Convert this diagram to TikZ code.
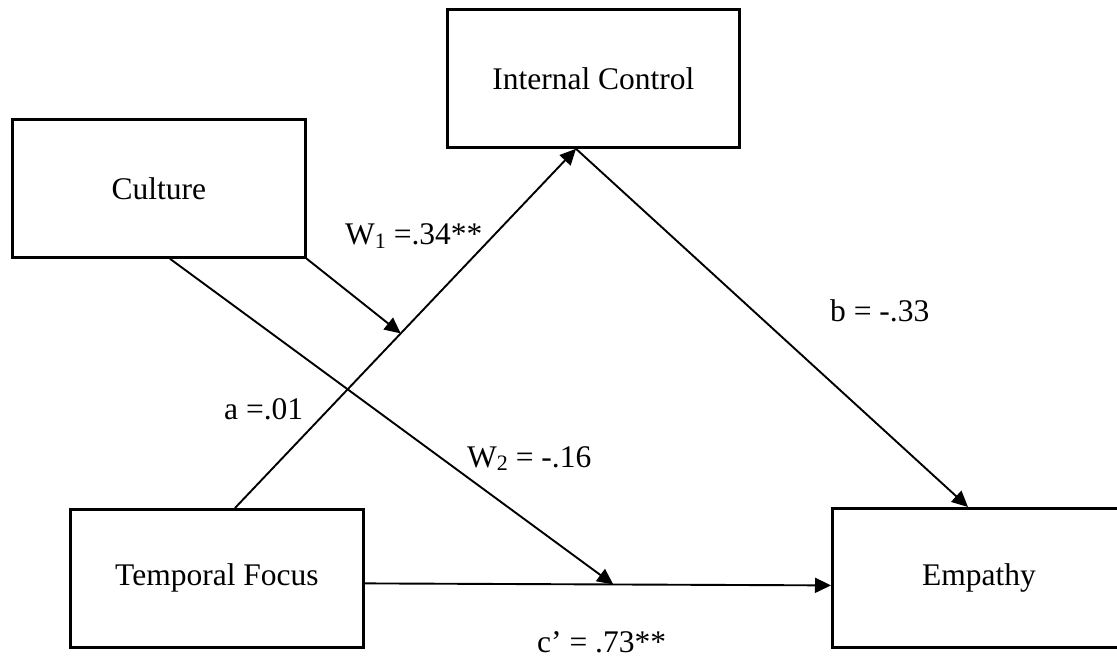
\documentclass[tikz,border=0pt]{standalone}
\usepackage{fontspec}
\setmainfont{Liberation Serif}
\usetikzlibrary{arrows.meta,calc}
\tikzset{
  varbox/.style={draw, line width=2.8pt, rectangle, inner sep=0pt, anchor=north west,
    font=\fontsize{31.5}{36}\selectfont},
  path/.style={line width=1.9pt, -{Triangle[length=16pt,width=15pt]}},
  lbl/.style={inner sep=0pt, anchor=base west, font=\fontsize{31.5}{36}\selectfont}
}
\begin{document}
\begin{tikzpicture}[x=1pt,y=-1pt]
\useasboundingbox (0,0) rectangle (1117,660);
\clip (0,0) rectangle (1117,660);
\node[varbox, minimum width=292pt, minimum height=138pt] (ic) at (446,8) {Internal Control};
\node[varbox, minimum width=293pt, minimum height=138pt] (cu) at (11,118) {Culture};
\node[varbox, minimum width=293pt, minimum height=138pt] (tf) at (69,508) {\raisebox{-4pt}{Temporal Focus}};
\node[varbox, minimum width=293pt, minimum height=139pt, text width=293pt, align=center] (em) at (831,507) {\raisebox{-4pt}{Empathy}};
% a path
\coordinate (a1) at ([xshift=166pt]tf.north west);
\coordinate (a2) at ([xshift=130pt]ic.south west);
\draw[path] (a1) -- (a2);
% b path
\draw[path] (a2) -- ([xshift=137pt]em.north west);
% c' path
\coordinate (c1) at ([yshift=-5pt]tf.east);
\coordinate (c2) at ([yshift=-7.5pt]em.west);
\draw[path] (c1) -- (c2);
% moderation arrows
\coordinate (m1) at ($(a1)!0.486!(a2)$);
\coordinate (m2) at ($(c1)!0.533!(c2)$);
\draw[path] (cu.south east) -- (m1);
\draw[path] ([xshift=159pt]cu.south west) -- (m2);
% labels
\node[lbl] (lw1) at (345,245) {W\raisebox{-0.12em}{\fontsize{22}{26}\selectfont 1} =.34**};
\node[lbl] (la) at (224,419) {a =.01};
\node[lbl] (lw2) at (467,467) {W\raisebox{-0.12em}{\fontsize{22}{26}\selectfont 2} = -.16};
\node[lbl] (lb) at (830,322) {b = -.33};
\node[lbl] (lc) at (537,652) {c’ = .73**};
\end{tikzpicture}
\end{document}
